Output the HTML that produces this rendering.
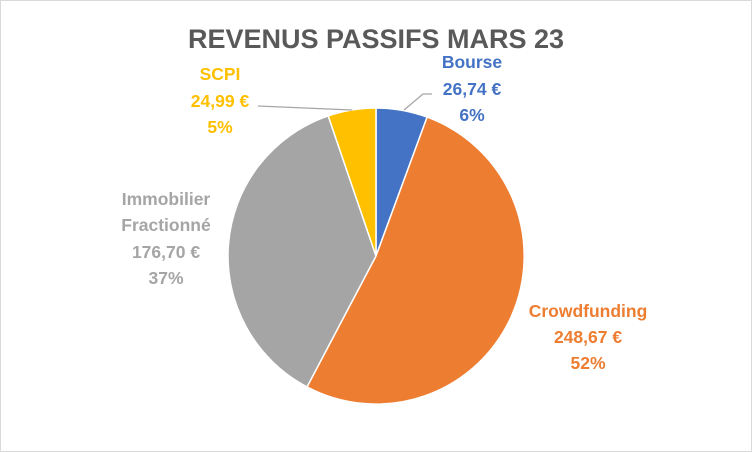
<!DOCTYPE html>
<html><head><meta charset="utf-8"><style>
html,body{margin:0;padding:0;background:#fff}
svg{display:block}
text{font-family:"Liberation Sans",sans-serif;font-weight:bold}
</style></head><body>
<svg width="752" height="452" viewBox="0 0 752 452">
<rect x="0.5" y="0.5" width="751" height="451" fill="#fff" stroke="#d9d9d9"/>
<text x="376" y="48" text-anchor="middle" font-size="27" fill="#595959">REVENUS PASSIFS MARS 23</text>
<g stroke="#fff" stroke-width="1.5">
<path d="M376,256 L376,108 A148,148 0 0 1 427.1,117.1 Z" fill="#4472c4"/>
<path d="M376,256 L427.1,117.1 A148,148 0 1 1 307.0,386.9 Z" fill="#ed7d31"/>
<path d="M376,256 L307.0,386.9 A148,148 0 0 1 328.2,115.9 Z" fill="#a5a5a5"/>
<path d="M376,256 L328.2,115.9 A148,148 0 0 1 376,108 Z" fill="#ffc000"/>
</g>
<polyline points="258,106 352,110" fill="none" stroke="#a6a6a6" stroke-width="1.3"/>
<polyline points="404,110 423,94 432,94" fill="none" stroke="#a6a6a6" stroke-width="1.3"/>
<g font-size="17.5" text-anchor="middle">
<text fill="#ffc000" x="220" y="80">SCPI</text>
<text fill="#ffc000" x="220" y="107">24,99 €</text>
<text fill="#ffc000" x="220" y="133">5%</text>
<text fill="#4472c4" x="472" y="68">Bourse</text>
<text fill="#4472c4" x="472" y="95">26,74 €</text>
<text fill="#4472c4" x="472" y="121">6%</text>
<text fill="#a5a5a5" x="166" y="205">Immobilier</text>
<text fill="#a5a5a5" x="166" y="231">Fractionné</text>
<text fill="#a5a5a5" x="166" y="258">176,70 €</text>
<text fill="#a5a5a5" x="166" y="284">37%</text>
<text fill="#ed7d31" x="588" y="317">Crowdfunding</text>
<text fill="#ed7d31" x="588" y="343">248,67 €</text>
<text fill="#ed7d31" x="588" y="369">52%</text>
</g>
</svg>
</body></html>
